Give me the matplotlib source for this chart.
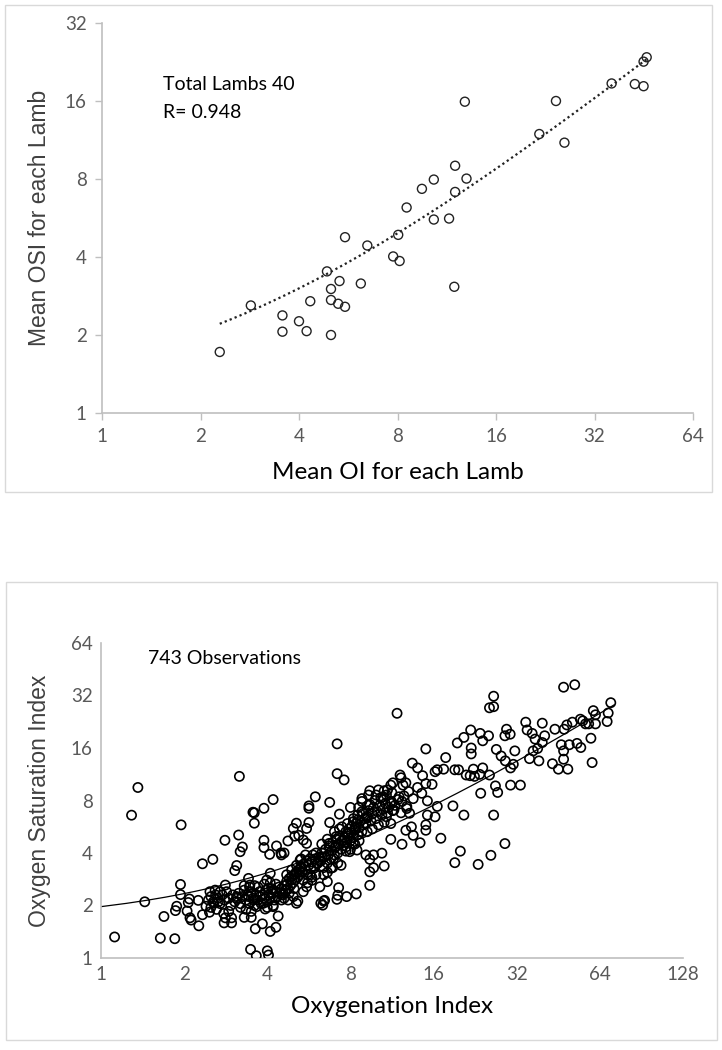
import numpy as np
import matplotlib
matplotlib.use('Agg')
import matplotlib.pyplot as plt
from matplotlib.patches import Rectangle
from matplotlib.ticker import FixedLocator, FixedFormatter, NullLocator

# ---- top panel: one mean per lamb ----
lamb_oi = [2.29, 2.85, 3.56, 3.56, 4.0, 4.22, 4.33, 5.01, 5.01, 5.27,
           5.53, 5.01, 5.32, 4.87, 6.18, 5.53, 6.47, 7.76, 8.12, 8.04,
           8.53, 9.50, 10.33, 10.33, 11.5, 12.0, 12.0, 13.0, 11.93, 12.85,
           21.7, 24.4, 25.9, 36.1, 42.5, 45.2, 45.2, 46.2]
lamb_osi = [1.72, 2.60, 2.38, 2.06, 2.26, 2.07, 2.70, 2.00, 2.73, 2.64,
            2.57, 3.01, 3.23, 3.52, 3.16, 4.77, 4.43, 4.02, 3.86, 4.87,
            6.21, 7.33, 7.96, 5.58, 5.63, 7.13, 9.0, 8.03, 3.07, 15.9,
            11.93, 16.0, 11.05, 18.7, 18.6, 18.25, 22.7, 23.6]
top_fit = (0.478, 1.115)      # linear trend, slope / intercept
top_ticks_x = [1, 2, 4, 8, 16, 32, 64]
top_ticks_y = [1, 2, 4, 8, 16, 32]

# ---- bottom panel: the observations ----
obs_oi = [
    # left outliers and edges of the cloud
    1.12, 1.29, 1.36, 1.44, 1.64, 1.69, 1.85, 1.88, 1.95, 1.94, 1.94, 2.05,
    2.10, 2.12, 2.09, 2.26, 2.25, 2.33, 2.54, 2.81, 3.17, 3.15, 3.25, 3.10,
    3.05, 3.59, 3.59, 3.55, 3.89, 4.20, 3.89, 3.89, 4.08, 4.32, 4.48, 4.60,
    4.75, 5.10, 5.03, 5.66, 5.66, 5.66, 5.97, 6.73, 6.73, 7.16, 7.16, 7.59,
    7.30, 8.00, 8.57, 8.80, 9.40, 10.1, 10.5, 10.9, 11.4, 11.8, 12.1, 12.7,
    13.4, 14.0, 14.6, 15.0, 15.8, 16.5, 15.2, 15.2, 15.0, 14.3, 12.3, 11.2,
    10.6, 9.7, 9.4, 8.4, 7.25, 7.2, 6.4, 6.45, 5.16, 4.38, 4.30, 3.84,
    3.62, 3.48, 3.65, 4.0, 4.04, 3.93, 3.50, 3.30, 2.82, 2.97, 2.33, 2.40,
    2.47,
    # right side
    17.0, 19.1, 20.0, 18.8, 20.6, 23.2, 25.8, 26.4, 29.0, 23.7, 26.8, 27.3,
    30.4, 33.0, 25.5, 26.4, 26.4, 20.6, 19.5, 21.8, 21.9, 21.9, 23.6, 25.3,
    24.1, 17.7, 17.4, 19.1, 19.7, 22.3, 21.7, 24.1, 25.5, 27.0, 28.1, 29.1,
    30.4, 31.1, 29.4, 29.0, 30.3, 31.5, 34.5, 34.9, 35.6, 36.4, 37.3, 38.1,
    38.5, 39.6, 40.4, 39.6, 36.7, 43.1, 45.3, 49.0, 47.3, 46.4, 47.3, 44.0,
    47.5, 48.6, 50.9, 52.9, 54.4, 55.5, 56.8, 54.6, 58.3, 59.4, 60.6, 61.7,
    60.0, 61.7, 68.6, 68.0, 70.1, 47.3, 51.9, 49.6,
    # mid region
    1.86, 2.07, 2.48, 2.59, 2.70, 2.82, 2.56, 2.66, 2.78, 2.79,
    2.97, 3.10, 3.19, 3.42, 3.46, 3.42, 3.57, 3.66, 3.77, 3.87,
    3.98, 4.10, 4.04, 4.20, 4.20, 4.10, 4.50, 4.97, 5.20, 5.40,
    5.55, 5.55, 5.26, 5.30, 5.10, 4.90, 4.70, 4.57, 4.50, 4.76,
    4.97, 5.10, 5.55, 5.40, 5.72, 5.90, 6.05, 6.20, 5.80, 6.25,
    6.35, 6.20, 6.60, 6.30, 6.70, 6.80, 6.95, 7.05, 7.10, 7.45,
    7.55, 7.75, 7.85, 7.95, 8.20, 8.45, 8.35, 8.20, 8.50, 8.90,
    9.20, 9.30, 9.30, 8.80, 9.90, 10.6, 10.5, 10.8, 11.2, 11.5,
    11.3, 12.0, 12.3, 12.8, 13.1, 13.3, 12.7, 13.5, 11.2, 12.2,
    12.4, 16.5, 16.2, 21.0, 22.5, 23.5, 7.15, 7.75, 9.40, 10.4,
    9.70, 9.40, 9.10, 15.0, 16.2,
    # dense core
    2.45, 2.50, 2.55, 2.60, 2.65, 2.70, 2.75, 2.80, 2.85, 2.90, 2.95, 3.00,
    2.50, 2.62, 2.90, 3.05, 3.10, 3.15, 3.20, 3.25, 3.30, 3.35, 3.40, 3.45,
    3.50, 3.55, 3.60, 3.20, 3.35, 3.50, 3.30, 3.45, 3.60, 3.65, 3.70, 3.75,
    3.80, 3.85, 3.90, 3.95, 4.00, 4.05, 4.10, 4.15, 4.20, 4.25, 4.30, 4.35,
    4.40, 3.70, 3.90, 4.10, 4.00, 4.20, 4.30, 4.45, 4.50, 4.55, 4.60, 4.65,
    4.70, 4.75, 4.80, 4.85, 4.90, 4.95, 5.00, 5.05, 5.10, 5.15, 5.20, 4.60,
    4.80, 5.00, 4.70, 4.90, 5.10, 5.25, 5.30, 5.35, 5.40, 5.50, 5.55, 5.60,
    5.65, 5.70, 5.75, 5.80, 5.85, 5.90, 5.95, 6.00, 6.10, 6.15, 5.40, 5.60,
    5.80, 6.00, 5.30, 5.50, 6.25, 6.30, 6.40, 6.45, 6.50, 6.60, 6.65, 6.70,
    6.80, 6.85, 6.90, 7.00, 7.05, 7.10, 7.20, 7.25, 7.30, 7.40, 7.45, 6.40,
    6.60, 6.90, 7.20, 7.40, 6.30, 6.60, 7.00, 7.30, 7.55, 7.60, 7.70, 7.75,
    7.80, 7.90, 8.00, 8.05, 8.10, 8.20, 8.30, 8.40, 8.50, 8.60, 8.70, 8.80,
    8.90, 9.00, 7.70, 8.00, 8.30, 8.60, 7.80, 8.20, 8.50, 8.80, 9.10, 9.20,
    9.30, 9.50, 9.60, 9.70, 9.90, 10.0, 10.2, 10.4, 10.5, 10.7, 10.9, 11.0,
    11.2, 11.4, 11.6, 11.9, 9.40, 9.80, 10.3, 10.8, 11.3, 9.20, 9.60, 10.1,
    10.6, 12.5, 13.0, 13.5, 14.0, 14.5, 15.0, 12.2, 12.8,
]
obs_osi = [
    1.32, 6.59, 9.50, 2.10, 1.30, 1.73, 1.29, 1.98, 5.80, 2.64, 2.31, 1.86,
    1.70, 1.65, 2.18, 1.53, 2.14, 3.47, 3.68, 4.73, 11.0, 5.07, 4.33, 3.39,
    3.17, 5.93, 6.80, 6.85, 7.22, 8.10, 4.73, 4.30, 3.93, 4.39, 4.00, 4.00,
    4.69, 5.93, 5.00, 7.22, 7.45, 5.98, 8.40, 7.80, 5.98, 16.9, 11.4, 10.5,
    6.68, 7.30, 7.30, 8.20, 9.10, 9.20, 8.40, 9.20, 10.1, 25.3, 11.2, 10.1,
    13.1, 12.3, 11.1, 15.8, 9.90, 12.0, 7.96, 6.60, 5.80, 4.58, 4.49, 4.79,
    3.37, 3.29, 2.61, 2.33, 2.53, 2.29, 2.12, 2.14, 2.12, 1.74, 1.50, 1.57,
    1.47, 1.12, 1.03, 1.10, 1.04, 1.91, 1.71, 1.71, 1.70, 1.70, 1.77, 1.98,
    1.83,
    4.86, 3.52, 4.10, 7.45, 6.60, 3.44, 3.88, 6.60, 4.53, 8.80, 9.70, 8.90,
    9.80, 9.80, 27.2, 27.6, 31.7, 18.4, 17.1, 20.3, 16.0, 14.8, 19.4, 18.8,
    17.6, 14.1, 12.1, 12.0, 12.0, 12.1, 11.1, 12.3, 11.2, 15.7, 14.4, 13.5,
    12.3, 12.9, 20.5, 18.8, 19.2, 15.4, 22.5, 20.3, 13.9, 19.4, 18.0, 15.9,
    13.5, 22.2, 18.8, 17.2, 15.4, 13.0, 12.1, 12.1, 13.8, 16.7, 15.4, 20.5,
    20.5, 21.7, 22.5, 17.0, 23.4, 22.9, 22.0, 16.1, 22.0, 18.2, 26.2, 24.8,
    13.2, 22.0, 25.4, 22.7, 29.1, 35.7, 36.9, 16.7,
    1.87, 2.08, 2.40, 2.45, 2.40, 2.62, 2.06, 2.10, 1.80, 1.59,
    1.59, 2.25, 4.07, 2.86, 2.62, 2.25, 2.15, 1.97, 2.25, 2.06,
    2.80, 3.06, 2.51, 2.45, 1.97, 1.42, 3.90, 5.53, 5.05, 4.75,
    4.54, 5.53, 3.65, 3.34, 3.12, 2.80, 2.62, 2.35, 2.15, 2.15,
    2.25, 2.06, 2.56, 2.40, 2.99, 3.27, 3.48, 3.72, 2.79, 2.06,
    2.01, 2.56, 2.74, 3.80, 4.54, 3.27, 3.72, 4.35, 4.97, 5.65,
    4.75, 4.35, 5.17, 4.07, 4.54, 4.16, 5.53, 6.05, 6.20, 6.76,
    6.35, 7.50, 8.60, 7.90, 8.60, 9.10, 8.10, 6.45, 5.90, 7.06,
    7.70, 8.40, 7.90, 7.40, 6.76, 5.65, 5.40, 5.05, 9.80, 10.8,
    9.80, 7.40, 11.7, 11.2, 11.0, 11.3, 2.17, 2.25, 3.12, 3.99,
    3.90, 3.68, 3.90, 5.40, 6.45,
    2.15, 2.25, 2.10, 2.30, 2.20, 2.05, 2.30, 2.15, 2.40, 2.20, 2.00, 2.30,
    1.95, 1.90, 1.85, 2.10, 2.20, 2.35, 2.05, 2.25, 2.45, 2.15, 2.30, 2.05,
    2.40, 2.20, 2.00, 1.95, 1.90, 1.85, 2.60, 2.55, 2.60, 2.30, 2.15, 2.40,
    2.05, 2.30, 2.20, 2.45, 2.10, 2.30, 2.20, 2.50, 2.35, 2.15, 2.40, 2.25,
    2.55, 2.55, 2.65, 2.70, 1.95, 2.00, 2.65, 2.35, 2.50, 2.30, 2.60, 2.45,
    2.75, 2.50, 2.85, 2.60, 2.95, 2.70, 3.00, 2.80, 3.10, 2.90, 3.20, 2.20,
    2.35, 2.50, 3.00, 3.20, 3.40, 3.00, 3.30, 3.10, 3.45, 3.20, 3.60, 3.00,
    3.40, 3.70, 3.25, 3.55, 3.90, 3.35, 3.70, 4.00, 3.50, 3.80, 2.80, 2.70,
    2.90, 3.00, 3.70, 3.90, 3.60, 4.00, 3.30, 3.80, 4.20, 3.50, 3.90, 4.40,
    3.70, 4.10, 4.60, 3.90, 4.30, 4.80, 4.00, 4.50, 5.00, 4.20, 4.70, 3.00,
    3.10, 3.30, 3.50, 3.40, 4.50, 4.80, 5.30, 5.50, 4.40, 4.90, 5.30, 4.60,
    5.00, 5.50, 4.70, 5.20, 5.70, 4.90, 5.40, 5.90, 5.10, 5.60, 6.10, 5.30,
    5.80, 6.30, 4.10, 4.20, 4.50, 4.70, 5.90, 6.30, 6.60, 6.90, 5.90, 6.50,
    7.00, 6.10, 6.70, 7.30, 6.30, 6.90, 7.50, 6.60, 7.10, 7.70, 6.80, 7.30,
    7.90, 7.00, 7.50, 8.10, 7.60, 8.00, 8.30, 8.60, 8.90, 5.30, 5.50, 5.80,
    6.00, 8.50, 9.00, 8.20, 9.50, 8.80, 10.0, 6.80, 7.20,
]
bot_fit = (0.37, 1.6)         # linear trend, slope / intercept
bot_fit_range = (1.0, 72.0)
bot_ticks_x = [1, 2, 4, 8, 16, 32, 64, 128]
bot_ticks_y = [1, 2, 4, 8, 16, 32, 64]

narrow = ['Lato', 'DejaVu Sans']
wide = ['Liberation Sans', 'DejaVu Sans']
grey = '#595959'
spine = '#bfbfbf'

fig = plt.figure(figsize=(7.22, 10.5), dpi=100)

# panel frames
fig.patches.append(Rectangle((5 / 722, 1 - 492 / 1050), 707 / 722, 487 / 1050,
                             transform=fig.transFigure, fill=False,
                             edgecolor='#d9d9d9', linewidth=1))
fig.patches.append(Rectangle((6 / 722, 1 - 1040 / 1050), 711 / 722, 458 / 1050,
                             transform=fig.transFigure, fill=False,
                             edgecolor='#d9d9d9', linewidth=1))


def style_axes(ax, xt, yt, ticklen):
    ax.set_xscale('log', base=2)
    ax.set_yscale('log', base=2)
    ax.set_xlim(xt[0], xt[-1])
    ax.set_ylim(yt[0], yt[-1])
    ax.xaxis.set_major_locator(FixedLocator(xt))
    ax.yaxis.set_major_locator(FixedLocator(yt))
    ax.xaxis.set_major_formatter(FixedFormatter([str(v) for v in xt]))
    ax.yaxis.set_major_formatter(FixedFormatter([str(v) for v in yt]))
    ax.xaxis.set_minor_locator(NullLocator())
    ax.yaxis.set_minor_locator(NullLocator())
    for s in ['top', 'right']:
        ax.spines[s].set_visible(False)
    for s in ['left', 'bottom']:
        ax.spines[s].set_color(spine)
        ax.spines[s].set_linewidth(1.2)
    ax.tick_params(length=ticklen, width=1, color=spine, labelcolor=grey,
                   labelsize=13.5, pad=6)
    for lab in ax.get_xticklabels() + ax.get_yticklabels():
        lab.set_family(narrow)
    for s in ax.spines.values():
        s.set_clip_on(False)


# top panel
ax1 = fig.add_axes([102 / 722, 1 - 413 / 1050, 591 / 722, 390 / 1050])
style_axes(ax1, top_ticks_x, top_ticks_y, 5)
ax1.scatter(lamb_oi, lamb_osi, s=42, facecolors='none', edgecolors='#222222',
            linewidths=1.0, zorder=3, clip_on=False)
xs = np.linspace(min(lamb_oi), max(lamb_oi), 200)
ax1.plot(xs, top_fit[0] * xs + top_fit[1], color='#222222', linestyle=(0, (1, 1.4)),
         linewidth=1.6, zorder=2)
ax1.text(163 / 722, 1 - 85 / 1050, 'Total Lambs 40', transform=fig.transFigure,
         fontsize=14, family=narrow, va='center', ha='left')
ax1.text(163 / 722, 1 - 112 / 1050, 'R= 0.948', transform=fig.transFigure,
         fontsize=14, family=narrow, va='center', ha='left')
ax1.set_xlabel('Mean OI for each Lamb', fontsize=17.5, family=narrow, labelpad=12)
ax1.set_ylabel('Mean OSI for each Lamb', fontsize=16.5, family=wide,
               labelpad=10, color='#404040')

# bottom panel
ax2 = fig.add_axes([101 / 722, 1 - 958 / 1050, 582 / 722, 315 / 1050])
style_axes(ax2, bot_ticks_x, bot_ticks_y, 0)
ax2.scatter(obs_oi, obs_osi, s=44, facecolors='none', edgecolors='black',
            linewidths=1.2, zorder=3)
xb = np.linspace(bot_fit_range[0], bot_fit_range[1], 300)
ax2.plot(xb, bot_fit[0] * xb + bot_fit[1], color='black', linewidth=0.9, zorder=2)
ax2.text(148 / 722, 1 - 658 / 1050, '743 Observations', transform=fig.transFigure,
         fontsize=14, family=narrow, va='center', ha='left')
ax2.set_xlabel('Oxygenation Index', fontsize=17.5, family=narrow, labelpad=9)
ax2.set_ylabel('Oxygen Saturation Index', fontsize=16.5, family=wide,
               labelpad=14, color='#404040')

fig.savefig('out.png', dpi=100)
